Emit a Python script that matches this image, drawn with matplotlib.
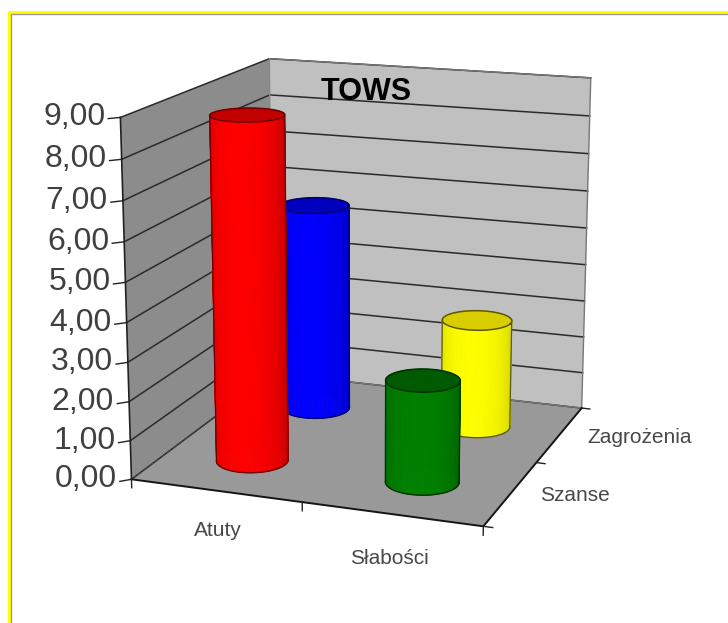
import matplotlib
matplotlib.use('Agg')
import matplotlib.pyplot as plt
import numpy as np
from matplotlib.lines import Line2D
from mpl_toolkits.mplot3d import proj3d
from mpl_toolkits.mplot3d.art3d import Poly3DCollection

plt.rcParams['font.family'] = ['Liberation Sans', 'DejaVu Sans']

categories = ['Atuty', 'Słabości']
series = ['Szanse', 'Zagrożenia']
szanse = [8.8, 2.6]
zagrozenia = [5.6, 2.9]
z_ticks = [0, 1, 2, 3, 4, 5, 6, 7, 8, 9]
z_labels = ['0,00', '1,00', '2,00', '3,00', '4,00', '5,00', '6,00', '7,00', '8,00', '9,00']

AZIM = -70
W, H = 728, 623

fig = plt.figure(figsize=(W / 100, H / 100), dpi=100)
ax = fig.add_axes([47.5 / W, 30 / H, H / W, 1], projection='3d', computed_zorder=False)
ax.set_proj_type('persp', focal_length=0.63)
ax.view_init(elev=15, azim=AZIM)
ax.set_box_aspect((367, 370, 367), zoom=0.967)
ax.set_axis_off()
ax.patch.set_alpha(0)


def face(verts, color, z):
    ax.add_collection3d(Poly3DCollection([verts], facecolor=color, edgecolor='none', zorder=z))


# walls and floor
face([(0, 2, 0), (2, 2, 0), (2, 2, 9), (0, 2, 9)], '#c0c0c0', 1)
face([(0, 0, 0), (0, 2, 0), (0, 2, 9), (0, 0, 9)], '#8c8c8c', 1)
face([(0, 0, 0), (2, 0, 0), (2, 2, 0), (0, 2, 0)], '#999999', 2)

for v in z_ticks:
    ax.plot([0, 0, 2], [0, 2, 2], [v, v, v], color='#2a2a2a', lw=1.1, zorder=3)
ax.plot([0, 2, 2], [2, 2, 2], [9, 9, 0], color='#777777', lw=1.0, zorder=3)
ax.plot([0, 0], [2, 2], [0, 9], color='#888888', lw=1.0, zorder=3)
ax.plot([0, 0], [0, 2], [0, 0], color='#444444', lw=1.0, ls='--', zorder=3)
ax.plot([0, 2], [2, 2], [0, 0], color='#777777', lw=1.0, zorder=3)

# axis edges and ticks
ax.plot([0, 2, 2], [0, 0, 2], [0, 0, 0], color='#151515', lw=1.4, zorder=3)
ax.plot([0, 0], [0, 0], [0, 9], color='#222222', lw=1.2, zorder=3)
for v in z_ticks:
    ax.plot([0, -0.045], [0, -0.05], [v, v], color='#222222', lw=1.0, zorder=3)
for i in range(3):
    ax.plot([i, i], [0, 0], [0, -0.22], color='#222222', lw=1.0, zorder=3)
    ax.plot([2, 2.05], [i, i], [0, 0], color='#222222', lw=1.0, zorder=3)


def cylinder(cx, cy, h, rgb_mid, rgb_edge, rgb_top, rgb_line, z):
    rx, ry = 0.2, 0.2
    t = np.linspace(0, 2 * np.pi, 121)
    a = np.radians(AZIM)
    xs = cx + rx * np.cos(t)
    ys = cy + ry * np.sin(t)
    shade = np.clip(np.cos(t - a + 0.2), 0, 1) ** 0.8
    cols = (np.array(rgb_edge) + (np.array(rgb_mid) - np.array(rgb_edge)) * shade[:, None]) / 255
    quads = [[(xs[i], ys[i], 0), (xs[i + 1], ys[i + 1], 0), (xs[i + 1], ys[i + 1], h), (xs[i], ys[i], h)]
             for i in range(len(t) - 1)]
    side = Poly3DCollection(quads, facecolors=cols[:-1], edgecolors=cols[:-1], linewidths=0.5, zorder=z)
    ax.add_collection3d(side)
    lc = np.array(rgb_line) / 255
    top = list(zip(xs, ys, np.full_like(t, h)))
    ax.add_collection3d(Poly3DCollection([top], facecolor=np.array(rgb_top) / 255,
                                         edgecolor='none', zorder=z + 0.1))
    ax.plot(xs, ys, np.full_like(t, h), color=lc, lw=1.1, zorder=z + 0.2)
    front = np.linspace(a - np.pi / 2, a + np.pi / 2, 60)
    ax.plot(cx + rx * np.cos(front), cy + ry * np.sin(front), 0 * front, color=lc, lw=1.0, zorder=z + 0.2)
    for e in (a - np.pi / 2, a + np.pi / 2):
        ax.plot([cx + rx * np.cos(e)] * 2, [cy + ry * np.sin(e)] * 2, [0, h], color=lc, lw=0.9, zorder=z + 0.2)


cylinder(0.5, 1.47, zagrozenia[0], (0, 0, 255), (0, 0, 190), (0, 0, 190), (0, 0, 110), 4)
cylinder(1.5, 1.47, zagrozenia[1], (255, 255, 0), (205, 205, 0), (215, 205, 0), (90, 90, 0), 4.5)
cylinder(0.5, 0.5, szanse[0], (255, 0, 0), (190, 0, 0), (195, 0, 0), (110, 0, 0), 5)
cylinder(1.5, 0.5, szanse[1], (0, 128, 0), (0, 95, 0), (0, 90, 0), (0, 50, 0), 5.5)

ax.set_xlim(0, 2)
ax.set_ylim(0, 2)
ax.set_zlim(0, 9)


def label(x, y, z, text, dx, dy, size, color, ha='center'):
    # project the 3d anchor, then offset in pixels
    px, py, _ = proj3d.proj_transform(x, y, z, ax.get_proj())
    ax.annotate(text, xy=(px, py), xytext=(dx, dy), textcoords='offset pixels', ha=ha, va='center',
                fontsize=size, color=color, annotation_clip=False, zorder=9)


for v in z_ticks:
    label(0, 0, v, z_labels[v], -15, 0, 23, '#404040', ha='right')
label(0.5, 0, 0, categories[0], 2, -40, 15, '#484848')
label(1.5, 0, 0, categories[1], -2, -44, 15, '#484848')
label(2, 0.5, 0, series[0], 64, -2, 15, '#484848')
label(2, 1.5, 0, series[1], 80, -3, 15, '#484848')

fig.text(366 / W, 1 - 92 / H, 'TOWS', ha='center', va='center', fontsize=22, fontweight='bold', color='#000000')

# yellow frame of the sheet object
fig.add_artist(Line2D([8.5 / W, 8.5 / W, 1], [0, 1 - 12 / H, 1 - 12 / H], color='#ffff00', lw=2.2))
fig.add_artist(Line2D([10.5 / W, 10.5 / W, 1], [0, 1 - 14 / H, 1 - 14 / H], color='#9a9a9a', lw=1.0))

fig.savefig('out.png', dpi=100, facecolor='white')
